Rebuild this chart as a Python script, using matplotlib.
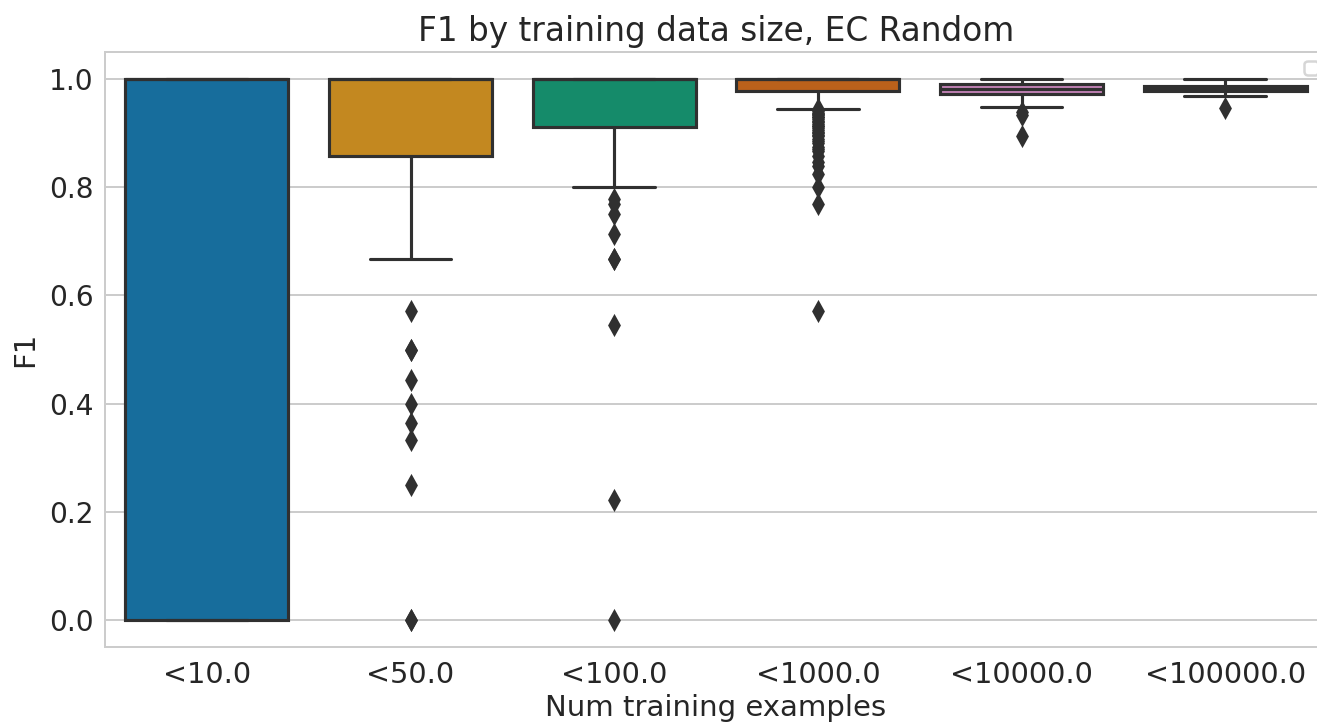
import colorsys
import matplotlib
matplotlib.use("Agg")
import matplotlib.pyplot as plt
import seaborn as sns

# ========== Data ==========

categories = ["<10.0", "<50.0", "<100.0", "<1000.0", "<10000.0", "<100000.0"]

q1 = [0.0, 0.857, 0.912, 0.977, 0.972, 0.977]
medians = [1.0, 1.0, 1.0, 1.0, 0.981, 0.982]
q3 = [1.0, 1.0, 1.0, 1.0, 0.990, 0.988]
whisker_low = [0.0, 0.667, 0.800, 0.945, 0.949, 0.968]
whisker_high = [1.0, 1.0, 1.0, 1.0, 1.0, 1.0]

fliers = [
    [],
    [0.571, 0.5, 0.5, 0.444, 0.4, 0.364, 0.333, 0.25, 0.0, 0.0],
    [0.778, 0.769, 0.75, 0.714, 0.667, 0.667, 0.545, 0.222, 0.0],
    [0.944, 0.941, 0.938, 0.935, 0.933, 0.930, 0.929, 0.926, 0.923, 0.920,
     0.917, 0.914, 0.913, 0.909, 0.906, 0.903, 0.900, 0.897, 0.895, 0.889,
     0.886, 0.882, 0.875, 0.870, 0.867, 0.857, 0.846, 0.840, 0.824, 0.800,
     0.769, 0.571],
    [0.940, 0.933, 0.894],
    [0.947],
]

# ========== Style ==========

sns.set_style("whitegrid")
sns.set_context("notebook")
plt.rcParams["grid.linewidth"] = 0.8
plt.rcParams["axes.linewidth"] = 0.8

palette = [sns.desaturate(c, 0.75) for c in sns.color_palette("colorblind", len(categories))]
lum = min(colorsys.rgb_to_hls(*c)[1] for c in palette) * 0.6
gray = (lum, lum, lum)
lw = 1.25

# ========== Plot ==========

W, H, DPI = 1317, 727, 180
fig = plt.figure(figsize=(W / DPI, H / DPI), dpi=DPI)
ax = fig.add_axes([105 / W, (H - 647) / H, (1327 - 105) / W, (647 - 52) / H])

stats = []
for i in range(len(categories)):
    stats.append({
        "q1": q1[i], "med": medians[i], "q3": q3[i],
        "whislo": whisker_low[i], "whishi": whisker_high[i],
        "fliers": fliers[i],
    })

art = ax.bxp(stats, positions=range(len(categories)), widths=0.8,
             patch_artist=True, manage_ticks=False,
             boxprops=dict(edgecolor=gray, linewidth=lw),
             whiskerprops=dict(color=gray, linewidth=lw),
             capprops=dict(color=gray, linewidth=lw),
             medianprops=dict(color=gray, linewidth=lw),
             flierprops=dict(marker="d", markersize=5, markerfacecolor=gray,
                             markeredgecolor=gray, linestyle="none"))
for box, col in zip(art["boxes"], palette):
    box.set_facecolor(col)

ax.set_xlim(-0.5, len(categories) - 0.5)
ax.set_ylim(-0.05, 1.05)
ax.set_xticks(range(len(categories)))
ax.set_xticklabels(categories)
ax.xaxis.grid(False)
ax.set_axisbelow(True)
ax.tick_params(axis="x", labelsize=11.5, length=0, pad=5.5)
ax.tick_params(axis="y", labelsize=11.2, length=0, pad=4.5)

ax.set_xlabel("Num training examples", fontsize=11.65, labelpad=2)
ax.set_ylabel("F1", fontsize=11.65, labelpad=4)
ax.set_title("F1 by training data size, EC Random", fontsize=13.1, pad=4.5)
ax.legend(handles=[], labels=[], loc="upper right", fontsize=7)

fig.savefig("out.png", dpi=DPI)
